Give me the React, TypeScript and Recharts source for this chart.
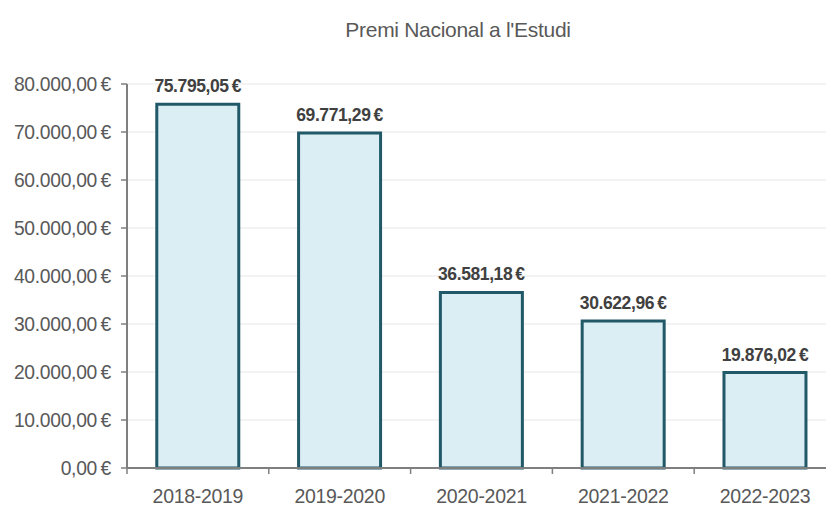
import React from "react";
import { BarChart, Bar, XAxis, YAxis, CartesianGrid, LabelList } from "recharts";

const categories = ["2018-2019", "2019-2020", "2020-2021", "2021-2022", "2022-2023"];
const amounts = [75795.05, 69771.29, 36581.18, 30622.96, 19876.02];
const yTicks = [0, 10000, 20000, 30000, 40000, 50000, 60000, 70000, 80000];
const title = "Premi Nacional a l'Estudi";

const data = categories.map((c, i) => ({ curs: c, import: amounts[i] }));

const FONT = "'Liberation Sans', Arial, sans-serif";

const fmt = (v: number) => {
  const fixed = v.toFixed(2);
  const [int, dec] = fixed.split(".");
  const withDots = int.replace(/\B(?=(\d{3})+(?!\d))/g, ".");
  return `${withDots},${dec}\u2009€`;
};

const XTick = (props: any) => {
  const { x, y, payload } = props;
  const off = payload.offset || 0;
  return (
    <g>
      <line x1={x - off} x2={x - off} y1={y} y2={y + 6} stroke="#7f7f7f" strokeWidth={1.5} />
      <text x={x} y={y + 21} dy="0.71em" textAnchor="middle" fill="#595959" fontSize={19.5} fontFamily={FONT} letterSpacing={-0.3}>
        {payload.value}
      </text>
    </g>
  );
};

export default function App() {
  return (
    <div style={{ position: "absolute", left: 0, top: 0, width: 826, height: 507, overflow: "hidden", background: "#fff" }}>
      <BarChart
        width={836}
        height={507}
        data={data}
        margin={{ top: 84, right: 0, bottom: 0, left: 0 }}
        barCategoryGap="21%"
      >
        <text x={458} y={37} textAnchor="middle" fill="#595959" fontSize={21} fontFamily={FONT} letterSpacing={-0.3}>
          {title}
        </text>
        <CartesianGrid vertical={false} stroke="#efefef" strokeWidth={1.5} />
        <XAxis
          dataKey="curs"
          height={39}
          tickLine={false}
          tickSize={0}
          tickMargin={0}
          tick={<XTick />}
          axisLine={{ stroke: "#7f7f7f", strokeWidth: 2 }}
          interval={0}
        />
        <YAxis
          width={127}
          domain={[0, 80000]}
          ticks={yTicks}
          tickFormatter={fmt}
          tickSize={6}
          tickMargin={10}
          interval={0}
          tick={{ fill: "#595959", fontSize: 19.3, fontFamily: FONT, letterSpacing: -0.3 }}
          tickLine={{ stroke: "#7f7f7f", strokeWidth: 1.5 }}
          axisLine={{ stroke: "#7f7f7f", strokeWidth: 2 }}
        />
        <Bar dataKey="import" fill="#DAEEF3" stroke="#215968" strokeWidth={3} isAnimationActive={false}>
          <LabelList
            dataKey="import"
            position="top"
            offset={12}
            formatter={(v: any) => fmt(Number(v))}
            style={{ fill: "#404040", fontSize: 17.5, fontWeight: "bold", fontFamily: FONT, letterSpacing: -0.4 }}
          />
        </Bar>
      </BarChart>
    </div>
  );
}
